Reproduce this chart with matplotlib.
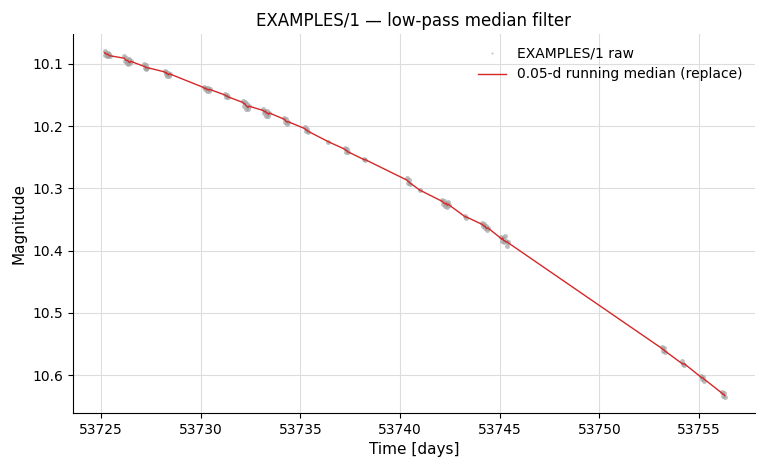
import numpy as np
import matplotlib.pyplot as plt

# raw photometry, one list per night
night_t = [
    [53725.18, 53725.22, 53725.26, 53725.30, 53725.34, 53725.38, 53725.42, 53725.46],
    [53726.18, 53726.22, 53726.26, 53726.30, 53726.34, 53726.38, 53726.42, 53726.46, 53726.50],
    [53727.16, 53727.20, 53727.24, 53727.28, 53727.32],
    [53728.20, 53728.24, 53728.28, 53728.32, 53728.36, 53728.40, 53728.44],
    [53730.15, 53730.20, 53730.25, 53730.30, 53730.35, 53730.40, 53730.45],
    [53731.22, 53731.27, 53731.32, 53731.37],
    [53732.12, 53732.17, 53732.22, 53732.27, 53732.32, 53732.37, 53732.42],
    [53733.15, 53733.20, 53733.25, 53733.30, 53733.35, 53733.40, 53733.45],
    [53734.20, 53734.25, 53734.30, 53734.35, 53734.40],
    [53735.22, 53735.27, 53735.32, 53735.37],
    [53736.40],
    [53737.22, 53737.27, 53737.32, 53737.37],
    [53738.20, 53738.26],
    [53740.36, 53740.40, 53740.44, 53740.48],
    [53741.00],
    [53742.12, 53742.17, 53742.22, 53742.27, 53742.32, 53742.37, 53742.42, 53742.47],
    [53743.28, 53743.33],
    [53744.12, 53744.17, 53744.22, 53744.27, 53744.32, 53744.37, 53744.42],
    [53745.05, 53745.10, 53745.15, 53745.20, 53745.25, 53745.30, 53745.35, 53745.40],
    [53753.12, 53753.17, 53753.22, 53753.27],
    [53754.16, 53754.21, 53754.26],
    [53755.08, 53755.13, 53755.18, 53755.23],
    [53756.14, 53756.19, 53756.24, 53756.29],
]
night_mag = [
    [10.080, 10.085, 10.082, 10.087, 10.083, 10.088, 10.084, 10.087],
    [10.088, 10.096, 10.091, 10.099, 10.093, 10.101, 10.092, 10.099, 10.096],
    [10.100, 10.106, 10.102, 10.109, 10.106],
    [10.111, 10.116, 10.113, 10.119, 10.114, 10.119, 10.116],
    [10.137, 10.141, 10.138, 10.143, 10.139, 10.144, 10.141],
    [10.149, 10.153, 10.150, 10.154],
    [10.159, 10.167, 10.162, 10.172, 10.164, 10.173, 10.168],
    [10.172, 10.179, 10.175, 10.183, 10.176, 10.184, 10.179],
    [10.187, 10.193, 10.189, 10.196, 10.193],
    [10.202, 10.208, 10.204, 10.210],
    [10.225],
    [10.235, 10.241, 10.237, 10.242],
    [10.253, 10.255],
    [10.284, 10.291, 10.287, 10.293],
    [10.303],
    [10.319, 10.325, 10.321, 10.328, 10.324, 10.330, 10.322, 10.327],
    [10.345, 10.347],
    [10.356, 10.361, 10.358, 10.364, 10.361, 10.367, 10.364],
    [10.379, 10.384, 10.380, 10.386, 10.376, 10.384, 10.393, 10.387],
    [10.555, 10.561, 10.557, 10.563],
    [10.577, 10.582, 10.584],
    [10.601, 10.606, 10.603, 10.609],
    [10.627, 10.633, 10.629, 10.635],
]

t = np.concatenate([np.array(x) for x in night_t])
mag = np.concatenate([np.array(x) for x in night_mag])

# running median, each point replaced by median of its neighbours
half_win = 0.12
med = np.array([np.median(mag[np.abs(t - ti) <= half_win]) for ti in t])

fig = plt.figure(figsize=(7.66, 4.72), dpi=100)
ax = fig.add_axes([0.0953, 0.125, 0.8903, 0.803])

ax.plot(t, mag, 'o', color='#a0a0a0', ms=3.5, alpha=0.7, mew=0, zorder=2, label='EXAMPLES/1 raw')
ax.plot(t, med, '-', color='#d62728', lw=1.0, zorder=3, label='0.05-d running median (replace)')

ax.set_xlim(53723.6, 53757.8)
ax.set_ylim(10.661, 10.052)
ax.set_xticks([53725, 53730, 53735, 53740, 53745, 53750, 53755])
ax.set_yticks([10.1, 10.2, 10.3, 10.4, 10.5, 10.6])
ax.grid(True, color='#dddddd', lw=0.8, zorder=0)
ax.set_axisbelow(True)
for s in ['top', 'right']:
    ax.spines[s].set_visible(False)

ax.set_xlabel('Time [days]', fontsize=11)
ax.set_ylabel('Magnitude', fontsize=11)
ax.set_title('EXAMPLES/1 \u2014 low-pass median filter', fontsize=12)
leg = ax.legend(loc='upper right', frameon=False, fontsize=10, markerscale=0.4)

fig.savefig('out.png', dpi=100)
